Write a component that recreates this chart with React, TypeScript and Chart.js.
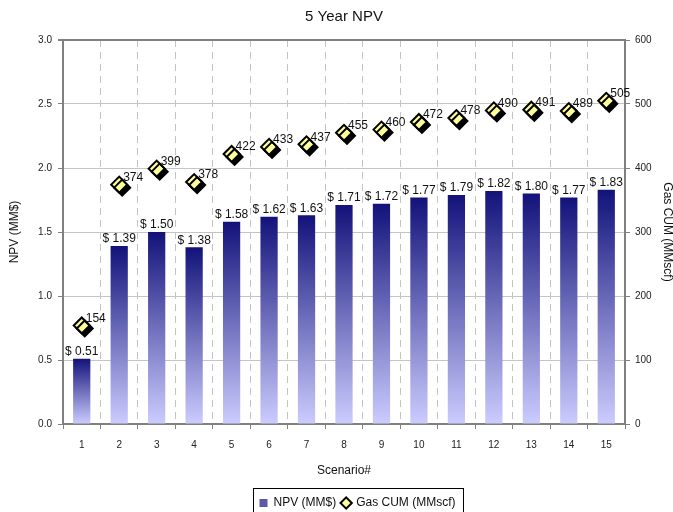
import React, { useEffect, useRef } from "react";
import { Chart, registerables } from "chart.js";

Chart.register(...registerables);

const scenarios = ["1", "2", "3", "4", "5", "6", "7", "8", "9", "10", "11", "12", "13", "14", "15"];
const npv = [0.51, 1.39, 1.5, 1.38, 1.58, 1.62, 1.63, 1.71, 1.72, 1.77, 1.79, 1.82, 1.8, 1.77, 1.83];
const gasCum = [154, 374, 399, 378, 422, 433, 437, 455, 460, 472, 478, 490, 491, 489, 505];

const FONT = "'Liberation Sans', Arial, sans-serif";
const LEGEND_SHIFT = 21;

export default function App() {
  const ref = useRef<HTMLCanvasElement>(null);
  useEffect(() => {
    document.body.style.margin = "0";
    const canvas = ref.current!;
    const barGradient = (ctx: any) => {
      const chart = ctx.chart;
      const ys = chart.scales?.y;
      if (!ys || !chart.chartArea || ctx.type !== "data") return "#5a5aa8";
      const v = ctx.raw as number;
      const top = ys.getPixelForValue(v);
      const base = ys.getPixelForValue(0);
      const g = chart.ctx.createLinearGradient(0, top, 0, base);
      g.addColorStop(0, "#12127a");
      g.addColorStop(1, "#ccccff");
      return g;
    };

    const labelsPlugin = {
      id: "labelsPlugin",
      afterLayout(chart: any) {
        const lg = chart.legend;
        if (lg) {
          lg.left += LEGEND_SHIFT;
          lg.right += LEGEND_SHIFT;
        }
      },
      beforeDatasetDraw(chart: any, args: any) {
        if (args.index === 1) {
          const c = chart.ctx;
          c.save();
          c.shadowColor = "#000000";
          c.shadowOffsetX = 3;
          c.shadowOffsetY = 3;
          c.shadowBlur = 0;
        }
      },
      afterDatasetDraw(chart: any, args: any) {
        if (args.index === 1) chart.ctx.restore();
      },
      afterDatasetsDraw(chart: any) {
        const c = chart.ctx;
        c.save();
        c.font = `12px ${FONT}`;
        c.fillStyle = "#111";
        const m0 = chart.getDatasetMeta(0);
        m0.data.forEach((el: any, i: number) => {
          c.textAlign = "center";
          c.textBaseline = "bottom";
          c.fillText("$ " + npv[i].toFixed(2), el.x, el.y - 1);
        });
        const m1 = chart.getDatasetMeta(1);
        m1.data.forEach((el: any, i: number) => {
          c.textAlign = "left";
          c.textBaseline = "bottom";
          c.fillText(String(gasCum[i]), el.x + 4, el.y - 1);
        });
        c.restore();
      },
      afterDraw(chart: any) {
        const lg = chart.legend;
        if (!lg || !lg.legendHitBoxes || !lg.legendHitBoxes.length) return;
        const hb = lg.legendHitBoxes;
        const left = Math.min(...hb.map((h: any) => h.left)) - 7;
        const right = Math.max(...hb.map((h: any) => h.left + h.width)) + 7;
        const c = chart.ctx;
        c.save();
        c.strokeStyle = "#000";
        c.lineWidth = 1;
        c.strokeRect(Math.round(left) + 0.5, 488.5, Math.round(right - left), 30);
        c.restore();
      },
    };

    const chart = new Chart(canvas, {
      type: "bar",
      data: {
        labels: scenarios,
        datasets: [
          {
            type: "bar",
            label: "NPV (MM$)",
            data: npv,
            yAxisID: "y",
            backgroundColor: barGradient,
            borderWidth: 0,
            barPercentage: 0.46,
            categoryPercentage: 1,
            order: 2,
            pointStyle: "rect",
          } as any,
          {
            type: "line",
            label: "Gas CUM (MMscf)",
            data: gasCum,
            yAxisID: "y1",
            showLine: false,
            pointStyle: "rectRot",
            pointRadius: 8,
            pointBackgroundColor: "#ffff99",
            pointBorderColor: "#000000",
            pointBorderWidth: 2,
            backgroundColor: "#ffff99",
            borderColor: "#000000",
            order: 1,
          } as any,
        ],
      },
      options: {
        animation: false,
        responsive: false,
        maintainAspectRatio: false,
        layout: { padding: { left: 0, right: 0, top: 0, bottom: -7 } },
        plugins: {
          tooltip: { enabled: false },
          title: {
            display: true,
            fullSize: false,
            text: "5 Year NPV",
            font: { family: FONT, size: 15, weight: "normal" },
            color: "#111",
            padding: { top: 8, bottom: 14 },
          },
          legend: {
            display: true,
            position: "bottom",
            labels: {
              usePointStyle: true,
              font: { family: FONT, size: 12 },
              color: "#111",
              padding: 6,
              boxWidth: 8,
              boxHeight: 8,
              sort: (a: any, b: any) => a.datasetIndex - b.datasetIndex,
              generateLabels: (chart: any) => {
                const items = Chart.defaults.plugins.legend.labels.generateLabels(chart);
                items.forEach((it: any) => {
                  if (it.datasetIndex === 0) {
                    it.fillStyle = "#5a5aa8";
                    it.strokeStyle = "#5a5aa8";
                    it.lineWidth = 0;
                  }
                });
                return items;
              },
            },
          },
        },
        scales: {
          x: {
            offset: true,
            grid: {
              offset: true,
              color: "#c4c4c4",
              lineWidth: 1,
              tickLength: 5,
              tickColor: "#808080",
              tickWidth: 1,
            },
            border: { display: true, color: "#808080", width: 2, dash: [7, 5] },
            ticks: { font: { family: FONT, size: 10 }, color: "#222", padding: 10, maxRotation: 0 },
            title: {
              display: true,
              text: "Scenario#",
              font: { family: FONT, size: 12 },
              color: "#111",
              padding: { top: 0, bottom: 13 },
            },
            afterFit: (s: any) => {
              s.height = 67;
            },
          },
          y: {
            position: "left",
            min: 0,
            max: 3,
            ticks: {
              stepSize: 0.5,
              font: { family: FONT, size: 10 },
              color: "#222",
              padding: 6,
              callback: (v: any) => Number(v).toFixed(1),
            },
            grid: {
              color: (ctx: any) => (ctx.tick && ctx.tick.value === 3 ? "#808080" : "#c4c4c4"),
              lineWidth: (ctx: any) => (ctx.tick && ctx.tick.value === 3 ? 2 : 1),
              tickLength: 5,
              tickColor: "#808080",
            },
            border: { display: true, color: "#808080", width: 2 },
            title: {
              display: true,
              text: "NPV (MM$)",
              font: { family: FONT, size: 12 },
              color: "#111",
              padding: { top: 7, bottom: 0 },
            },
            afterFit: (s: any) => {
              s.width = 63;
            },
          },
          y1: {
            position: "right",
            min: 0,
            max: 600,
            ticks: {
              stepSize: 100,
              font: { family: FONT, size: 10 },
              color: "#222",
              padding: 5,
            },
            grid: { drawOnChartArea: false, tickLength: 5, tickColor: "#808080" },
            border: { display: true, color: "#808080", width: 2 },
            title: {
              display: true,
              text: "Gas CUM (MMscf)",
              font: { family: FONT, size: 12, lineHeight: 1 },
              color: "#111",
              padding: { top: 0, bottom: 0 },
            },
            afterFit: (s: any) => {
              s.width = 48;
            },
          },
        },
      },
      plugins: [labelsPlugin],
    });
    return () => chart.destroy();
  }, []);
  return (
    <div style={{ position: "absolute", left: 0, top: 0, width: 673, height: 512 }}>
      <canvas ref={ref} width={673} height={512} style={{ display: "block", width: 673, height: 512 }} />
    </div>
  );
}
